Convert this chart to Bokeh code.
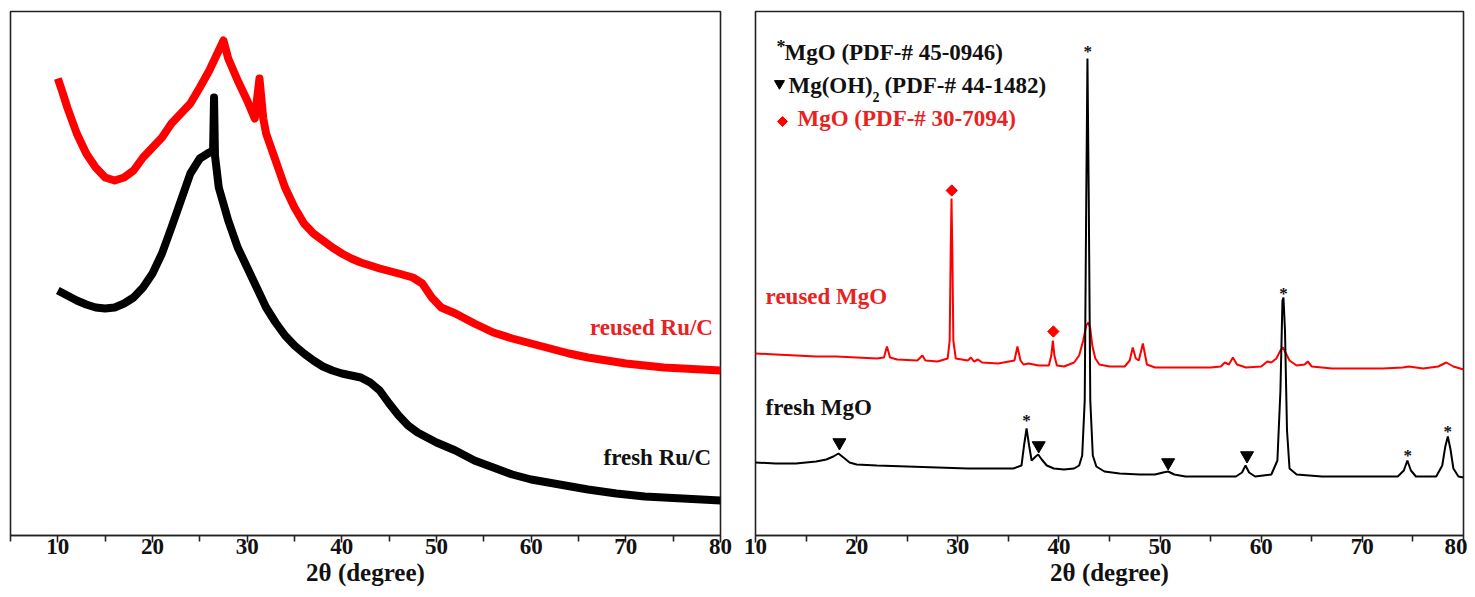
import math
from bokeh.plotting import figure
from bokeh.layouts import row
from bokeh.models import Range1d, FixedTicker
from bokeh.core.properties import value
from bokeh.embed import file_html
from bokeh.resources import INLINE

# ---------------- data: left panel (Ru/C) ----------------
ruc_reused_x = [10, 10.5, 11, 12, 13, 14, 15, 16, 17, 18, 19, 20, 21, 22, 23, 24, 25, 26, 27, 27.5, 28, 29, 30,
                30.8, 31.3, 31.7, 32, 33, 34, 35, 36, 37, 38, 39, 40, 41, 42, 44, 46, 47.5, 48.5, 49.5, 50.5, 52,
                54, 56, 58, 60, 62, 64, 66, 68, 70, 72, 74, 76, 78, 80]
ruc_reused_y = [457, 443, 428, 402, 382, 368, 358, 355, 358, 365, 378, 388, 398, 412, 422, 432, 448, 465, 485, 495,
                477, 455, 435, 417, 457, 417, 402, 375, 348, 328, 312, 302, 295, 288, 282, 277, 273, 267, 262, 258,
                252, 238, 228, 222, 212, 203, 197, 192, 187, 182, 178, 175, 172, 170, 168, 167, 166, 165]

ruc_fresh_x = [10, 11, 12, 13, 14, 15, 16, 17, 18, 19, 20, 21, 22, 23, 24, 25, 26, 26.4, 26.5, 26.6, 27, 28, 29,
               30, 31, 32, 33, 34, 35, 36, 37, 38, 39, 40, 41, 42, 43, 44, 45, 46, 47, 48, 49, 50, 52, 54, 56, 58,
               60, 63, 66, 69, 72, 76, 80]
ruc_fresh_y = [245, 240, 235, 231, 228, 227, 228, 232, 238, 248, 262, 282, 308, 335, 362, 377, 383, 385, 438, 380,
               348, 315, 288, 268, 248, 228, 213, 200, 190, 182, 175, 169, 165, 162, 160, 158, 153, 145, 132, 120,
               110, 103, 98, 93, 85, 75, 68, 61, 56, 51, 46, 42, 39, 37, 35]

# ---------------- data: right panel (MgO) ----------------
mgo_reused_x = [10, 12, 14, 16, 18, 20, 22, 22.7, 23.0, 23.3, 24, 26, 26.5, 26.8, 28, 29.0, 29.2, 29.3, 29.38,
                29.46, 29.56, 29.8, 31.0, 31.3, 31.6, 32.0, 32.4, 34.0, 35.6, 35.9, 36.2, 36.5, 37.0, 38.0, 39.0,
                39.25, 39.4, 39.55, 39.8, 40.5, 41.5, 42.0, 42.4, 42.7, 42.9, 43.1, 43.3, 43.6, 44.0, 45.0, 46.5,
                47.0, 47.3, 47.6, 47.9, 48.3, 48.7, 49.5, 52.0, 55.0, 56.0, 56.4, 56.8, 57.2, 57.6, 58.5, 60.0,
                60.6, 61.0, 61.5, 61.9, 62.15, 62.4, 62.8, 63.5, 64.3, 64.6, 65.0, 67.0, 70.0, 72.0, 74.0, 74.6,
                76.0, 77.5, 78.3, 79.0, 80.0]
mgo_reused_y = [182, 181, 180, 179, 179, 178, 177, 178, 189, 178, 176, 175, 180, 175, 174, 177, 195, 285, 337,
                285, 195, 177, 175, 178, 174, 176, 173, 172, 175, 189, 175, 171, 172, 170, 170,
                180, 195, 180, 170, 169, 173, 180, 195, 210, 213, 207, 190, 177, 171, 169, 169,
                175, 188, 177, 175, 192, 171, 168, 168, 168, 169, 173, 171, 178, 171, 168, 169,
                174, 173, 177, 185, 188, 183, 175, 170, 171, 174, 169, 167, 167, 167, 168, 169,
                167, 169, 173, 169, 166]

mgo_fresh_x = [10, 12, 14, 16, 17, 17.7, 18.2, 18.7, 19.3, 20, 22, 25, 28, 31, 34, 35.5, 36.3, 36.55, 36.8, 37.05,
               37.3, 37.7, 37.95, 38.3, 38.8, 39.5, 40.5, 41.5, 42.0, 42.3, 42.55, 42.7, 42.82, 42.95, 43.1, 43.35,
               43.7, 44.5, 46.0, 48.0, 49.5, 50.3, 50.8, 51.4, 52.5, 55.0, 57.5, 58.1, 58.45, 58.8, 59.4, 61.0,
               61.6, 61.9, 62.1, 62.2, 62.35, 62.55, 62.8, 63.5, 66.0, 70.0, 73.5, 74.1, 74.45, 74.8, 75.3, 77.3,
               77.9, 78.2, 78.45, 78.7, 79.0, 79.5, 80.0]
mgo_fresh_y = [73, 72, 72, 74, 76, 79, 82, 78, 73, 71, 70, 69, 68, 67, 67, 67, 70, 90, 107, 90,
               75, 79, 81, 76, 70, 67, 66, 67, 70, 80, 135, 335, 477, 335, 135, 80,
               69, 64, 62, 61, 61, 63, 64, 61, 59, 59, 59, 63, 70, 63, 59, 61,
               75, 145, 235, 238, 205, 105, 67, 61, 59, 59, 59, 65, 75, 65, 59, 59,
               70, 89, 99, 87, 67, 59, 58]

# peak markers (2theta, intensity)
star_x = [42.85, 62.2, 36.8, 74.5, 78.45]
star_y = [484, 242, 115, 80, 104]
tri_x = [18.3, 38.0, 50.8, 58.6]
tri_y = [93, 90, 73, 80]
dia_x = [29.4, 39.45]
dia_y = [345, 204]

xticks = [10, 20, 30, 40, 50, 60, 70, 80]
FONT = "Liberation Serif"
RED = "#ff0000"
RED_TXT = "#e8231f"
INK = "#111111"


def style(p, minor):
    p.xgrid.visible = False
    p.ygrid.visible = False
    p.yaxis.visible = False
    p.outline_line_color = "#222222"
    p.outline_line_width = 1.6
    p.background_fill_color = "white"
    p.border_fill_color = "white"
    ax = p.xaxis[0]
    ax.ticker = FixedTicker(ticks=xticks, minor_ticks=minor)
    ax.axis_line_color = "#222222"
    ax.axis_line_width = 1.6
    ax.major_tick_line_color = "#222222"
    ax.major_tick_line_width = 1.6
    ax.minor_tick_line_color = "#222222"
    ax.minor_tick_line_width = 1.6
    ax.major_tick_in = 0
    ax.major_tick_out = 7
    ax.minor_tick_in = 0
    ax.minor_tick_out = 6
    ax.major_label_text_font = FONT
    ax.major_label_text_font_style = "bold"
    ax.major_label_text_font_size = "23px"
    ax.major_label_text_color = INK
    ax.major_label_standoff = -4
    ax.axis_label = "2θ (degree)"
    ax.axis_label_text_font = FONT
    ax.axis_label_text_font_style = "bold"
    ax.axis_label_text_font_size = "25px"
    ax.axis_label_text_color = INK
    ax.axis_label_standoff = 2


def label(p, x, y, txt, color, size="23px", align="left"):
    p.text(x=[x], y=[y], text=[txt], text_align=align, text_baseline="middle",
           text_font=value(FONT), text_font_style="bold", text_font_size=size, text_color=color)


# ---------------- left figure ----------------
p1 = figure(frame_width=710, frame_height=524, output_backend="svg", toolbar_location=None,
            x_range=Range1d(5, 80), y_range=Range1d(0, 524),
            min_border_left=10, min_border_right=17, min_border_top=11, min_border_bottom=0)
style(p1, [5, 15, 25, 35, 45, 55, 65, 75])
p1.line(ruc_reused_x, ruc_reused_y, color=RED, line_width=8, line_join="round")
p1.line(ruc_fresh_x, ruc_fresh_y, color="black", line_width=8, line_join="round")
label(p1, 79.2, 208, "reused Ru/C", RED_TXT, align="right")
label(p1, 79.0, 78, "fresh Ru/C", INK, align="right")

# ---------------- right figure ----------------
p2 = figure(frame_width=708, frame_height=524, output_backend="svg", toolbar_location=None,
            x_range=Range1d(10, 80), y_range=Range1d(0, 524),
            min_border_left=18, min_border_right=4, min_border_top=11, min_border_bottom=0)
style(p2, [15, 25, 35, 45, 55, 65, 75])
p2.line(mgo_reused_x, mgo_reused_y, color=RED, line_width=2)
p2.line(mgo_fresh_x, mgo_fresh_y, color="black", line_width=2)

p2.text(x=star_x, y=star_y, text=["*"] * len(star_x), text_align="center", text_baseline="middle",
        text_font=value(FONT), text_font_style="bold", text_font_size="17px", text_color=INK)
p2.scatter(tri_x, tri_y, marker="inverted_triangle", size=13, color="black")
p2.scatter(dia_x, dia_y, marker="square", size=8, angle=math.pi / 4, color=RED)

# sample labels
label(p2, 11.0, 239, "reused MgO", RED_TXT)
label(p2, 11.0, 128, "fresh MgO", INK)

# reference legend
label(p2, 12.08, 489, "*", INK, size="18px")
label(p2, 12.87, 483, "MgO (PDF-# 45-0946)", INK)
p2.scatter([12.37], [452], marker="inverted_triangle", size=10, color="black")
label(p2, 13.26, 450, "Mg(OH)", INK)
label(p2, 21.56, 439, "2", INK, size="14px")
label(p2, 22.75, 450, "(PDF-# 44-1482)", INK)
p2.scatter([12.67], [414], marker="square", size=7, angle=math.pi / 4, color=RED)
label(p2, 14.15, 417, "MgO (PDF-# 30-7094)", RED_TXT)

layout = row(p1, p2)
open("out.html", "w").write(file_html(layout, INLINE))
